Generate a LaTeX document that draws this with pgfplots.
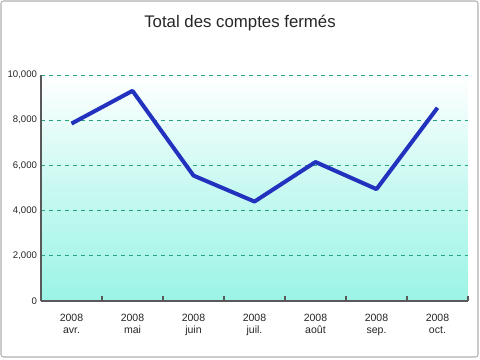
\documentclass[border=0pt]{standalone}
\usepackage{fontspec}
\setmainfont{Liberation Sans}
\usepackage{pgfplots}
\pgfplotsset{compat=1.18}
\definecolor{lineblue}{RGB}{35,50,190}
\definecolor{gridgreen}{RGB}{35,165,125}
\definecolor{bgcyan}{RGB}{155,244,230}
\begin{document}
\begin{tikzpicture}[x=1pt,y=1pt]
\path[fill=white] (0,0) rectangle (360,270);
\draw[rounded corners=2pt, color=black!30, line width=0.8pt] (0.75,2.25) rectangle (358.5,269.25);
\node[font=\fontsize{12.6}{14}\selectfont, text=black!85] at (180,252.5) {Total des comptes fermés};
\begin{axis}[
  at={(30.75pt,44.25pt)}, anchor=south west,
  scale only axis, width=320.25pt, height=169.5pt,
  xmin=-0.5, xmax=6.5, ymin=0, ymax=10000,
  axis lines*=left,
  axis line style={line width=1.5pt, color=black!65},
  axis background/.style={shade, top color=white, bottom color=bgcyan, middle color=bgcyan!55},
  xtick={0,...,6},
  xticklabels={{2008\\avr.},{2008\\mai},{2008\\juin},{2008\\juil.},{2008\\août},{2008\\sep.},{2008\\oct.}},
  minor xtick={0.5,1.5,2.5,3.5,4.5,5.5,6.5},
  major tick length=0pt, minor tick length=3.5pt,
  tick align=inside,
  minor tick style={line width=1.2pt, color=black!65},
  ytick={0,2000,4000,6000,8000,10000},
  scaled y ticks=false,
  /pgf/number format/1000 sep={,},
  /pgf/number format/assume math mode=true,
  ymajorgrids,
  major grid style={dashed, color=gridgreen, line width=0.5pt},
  yticklabel style={font=\fontsize{7.2}{8}\selectfont, text=black!85, xshift=0.5pt},
  xticklabel style={font=\fontsize{7.9}{9.4}\selectfont, text=black!85, align=center, yshift=-6pt},
  clip=false,
]
\addplot[color=lineblue, line width=3pt, line join=round] coordinates {
  (0,7850) (1,9300) (2,5550) (3,4400) (4,6150) (5,4950) (6,8550)
};
\end{axis}
\end{tikzpicture}
\end{document}
